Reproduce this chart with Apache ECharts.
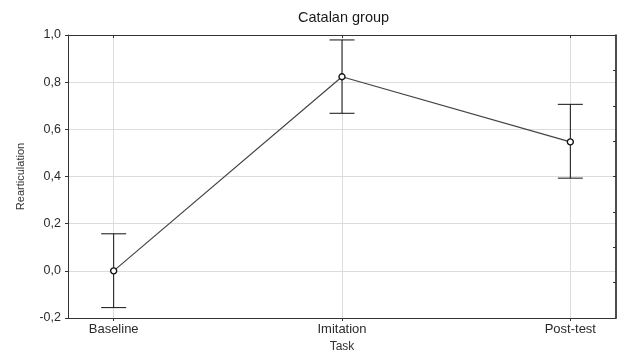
<!DOCTYPE html>
<html>
<head>
<meta charset="utf-8">
<script src="https://cdn.jsdelivr.net/npm/echarts@6/dist/echarts.min.js"></script>
<style>
  html, body { margin: 0; padding: 0; background: #fff; }
  #chart { width: 621px; height: 351px; }
</style>
</head>
<body>
<div id="chart"></div>
<script>
// Task conditions along the x axis
const tasks = ['Baseline', 'Imitation', 'Post-test'];
// Mean rearticulation per task
const means = [0.0, 0.823, 0.547];
// Lower and upper ends of the error bars
const lower = [-0.156, 0.668, 0.393];
const upper = [0.157, 0.979, 0.706];
// Left axis tick values
const yTicks = [-0.2, 0.0, 0.2, 0.4, 0.6, 0.8, 1.0];

const font = 'Arial, "Liberation Sans", sans-serif';
const taskIdx = tasks.map((_, i) => i);

const chart = echarts.init(document.getElementById('chart'), null, { renderer: 'canvas' });

const option = {
  animation: false,
  backgroundColor: '#ffffff',
  title: {
    text: 'Catalan group',
    left: 293, top: 5,
    textStyle: { fontFamily: font, fontSize: 14.5, fontWeight: 'normal', color: '#1a1a1a' }
  },
  grid: { left: 68, right: 5, top: 35, bottom: 33, outerBoundsMode: 'none', containLabel: false },
  xAxis: [
    {
      type: 'value', position: 'bottom', min: -0.2, max: 2.2,
      name: 'Task', nameLocation: 'middle', nameGap: 23,
      nameTextStyle: { fontFamily: font, fontSize: 12, color: '#333' },
      axisLine: { show: true, onZero: false, lineStyle: { color: '#333', width: 1 } },
      axisTick: { show: true, customValues: taskIdx, length: 3, lineStyle: { color: '#333' } },
      axisLabel: {
        customValues: taskIdx, margin: 5,
        fontFamily: font, fontSize: 13, color: '#2a2a2a',
        formatter: v => tasks[Math.round(v)]
      },
      splitLine: { show: true, lineStyle: { color: '#dcdcdc', width: 1 } }
    },
    {
      type: 'value', position: 'top', min: -0.2, max: 2.2,
      axisLine: { show: true, onZero: false, lineStyle: { color: '#333', width: 1 } },
      axisTick: { show: true, inside: true, customValues: taskIdx, length: 3, lineStyle: { color: '#333' } },
      axisLabel: { show: false },
      splitLine: { show: false }
    }
  ],
  yAxis: [
    {
      type: 'value', position: 'left', min: -0.2, max: 1.0, interval: 0.2,
      name: 'Rearticulation', nameLocation: 'middle', nameGap: 42, nameRotate: 90,
      nameTextStyle: { fontFamily: '"Liberation Sans Narrow", "Arial Narrow", ' + font, fontSize: 11, color: '#333' },
      axisLine: { show: true, onZero: false, lineStyle: { color: '#333', width: 1 } },
      axisTick: { show: true, length: 3, lineStyle: { color: '#333' } },
      axisLabel: {
        margin: 7, fontFamily: font, fontSize: 12.5, color: '#2a2a2a',
        customValues: yTicks,
        formatter: v => v.toFixed(1).replace('.', ',')
      },
      splitLine: { show: true, lineStyle: { color: '#dcdcdc', width: 1 } }
    },
    {
      type: 'value', position: 'right', min: 0, max: 8, interval: 1,
      axisLine: { show: true, onZero: false, lineStyle: { color: '#111', width: 1.5 } },
      axisTick: { show: true, inside: true, length: 3, lineStyle: { color: '#333' } },
      axisLabel: { show: false },
      splitLine: { show: false }
    }
  ],
  series: [
    {
      type: 'custom', xAxisIndex: 0, yAxisIndex: 0, z: 2,
      data: taskIdx.map(i => [i, lower[i], upper[i]]),
      renderItem: (params, api) => {
        const x = api.value(0);
        const lo = api.coord([x, api.value(1)]);
        const hi = api.coord([x, api.value(2)]);
        const cap = 12.5;
        const style = { stroke: '#111', lineWidth: 1 };
        return {
          type: 'group',
          children: [
            { type: 'line', shape: { x1: hi[0], y1: hi[1], x2: lo[0], y2: lo[1] }, style },
            { type: 'line', shape: { x1: hi[0] - cap, y1: hi[1], x2: hi[0] + cap, y2: hi[1] }, style },
            { type: 'line', shape: { x1: lo[0] - cap, y1: lo[1], x2: lo[0] + cap, y2: lo[1] }, style }
          ]
        };
      }
    },
    {
      type: 'line', xAxisIndex: 0, yAxisIndex: 0, z: 3,
      data: taskIdx.map(i => [i, means[i]]),
      lineStyle: { color: '#444', width: 1.2 },
      symbol: 'circle', symbolSize: 6,
      itemStyle: { color: '#fff', borderColor: '#111', borderWidth: 1.4 }
    }
  ]
};

chart.setOption(option);
</script>
</body>
</html>
